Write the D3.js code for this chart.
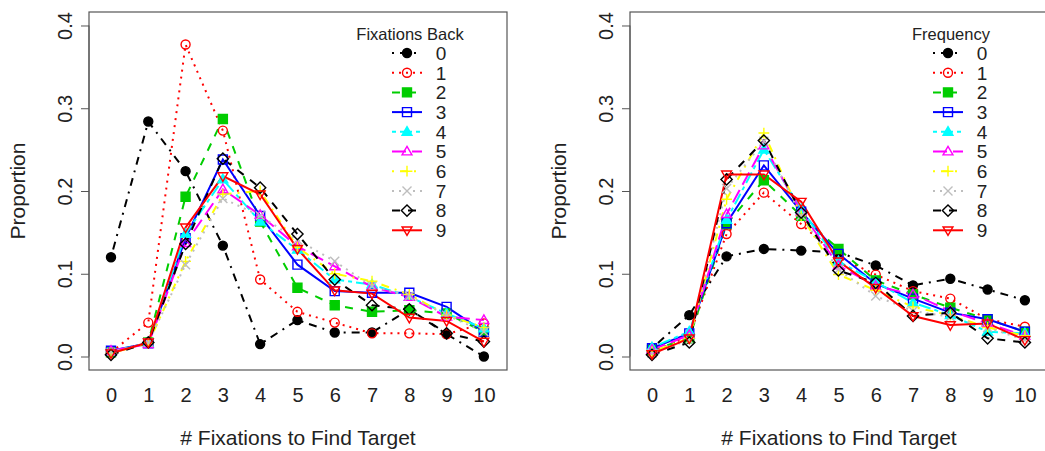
<!DOCTYPE html>
<html>
<head>
<meta charset="utf-8">
<script src="https://cdn.jsdelivr.net/npm/d3@7"></script>
<style>
  body { margin: 0; background: #fff; }
  text { font-family: "Liberation Sans", Arial, sans-serif; fill: #222; }
</style>
</head>
<body>
<svg id="chart" width="1045" height="451"></svg>
<script>
const fixations = [0, 1, 2, 3, 4, 5, 6, 7, 8, 9, 10];
const groups = ['0', '1', '2', '3', '4', '5', '6', '7', '8', '9'];
const yTicks = [0, 0.1, 0.2, 0.3, 0.4];

// left panel: proportion by number of fixations back
const backValues = [
  [0.120, 0.284, 0.224, 0.134, 0.015, 0.044, 0.029, 0.029, 0.057, 0.027, 0.000],
  [0.005, 0.041, 0.377, 0.273, 0.093, 0.054, 0.041, 0.028, 0.028, 0.027, 0.040],
  [0.005, 0.017, 0.193, 0.287, 0.163, 0.083, 0.062, 0.054, 0.056, 0.052, 0.030],
  [0.007, 0.016, 0.143, 0.238, 0.170, 0.111, 0.079, 0.077, 0.077, 0.060, 0.030],
  [0.006, 0.016, 0.148, 0.214, 0.163, 0.129, 0.093, 0.087, 0.072, 0.052, 0.034],
  [0.007, 0.015, 0.137, 0.202, 0.171, 0.133, 0.109, 0.084, 0.072, 0.048, 0.044],
  [0.004, 0.016, 0.115, 0.196, 0.200, 0.132, 0.100, 0.091, 0.075, 0.050, 0.035],
  [0.005, 0.017, 0.111, 0.191, 0.170, 0.141, 0.115, 0.085, 0.073, 0.050, 0.030],
  [0.002, 0.017, 0.136, 0.239, 0.204, 0.148, 0.093, 0.062, 0.057, 0.028, 0.018],
  [0.004, 0.017, 0.156, 0.218, 0.196, 0.130, 0.080, 0.076, 0.047, 0.043, 0.018]
];

// right panel: proportion by frequency
const freqValues = [
  [0.010, 0.050, 0.121, 0.130, 0.128, 0.126, 0.110, 0.086, 0.094, 0.081, 0.068],
  [0.005, 0.025, 0.148, 0.198, 0.160, 0.120, 0.099, 0.079, 0.070, 0.045, 0.036],
  [0.008, 0.022, 0.160, 0.213, 0.170, 0.130, 0.092, 0.075, 0.059, 0.045, 0.030],
  [0.010, 0.028, 0.161, 0.231, 0.175, 0.124, 0.088, 0.070, 0.053, 0.045, 0.030],
  [0.011, 0.030, 0.165, 0.250, 0.178, 0.115, 0.090, 0.065, 0.050, 0.030, 0.028],
  [0.008, 0.026, 0.172, 0.255, 0.175, 0.110, 0.085, 0.075, 0.055, 0.040, 0.025],
  [0.006, 0.022, 0.190, 0.270, 0.170, 0.099, 0.080, 0.060, 0.050, 0.035, 0.025],
  [0.004, 0.020, 0.203, 0.260, 0.170, 0.105, 0.073, 0.055, 0.048, 0.035, 0.020],
  [0.002, 0.017, 0.214, 0.261, 0.174, 0.104, 0.089, 0.049, 0.053, 0.022, 0.017],
  [0.003, 0.022, 0.220, 0.220, 0.187, 0.115, 0.083, 0.049, 0.038, 0.040, 0.020]
];

const colors = ['#000000', '#FF0000', '#00CD00', '#0000FF', '#00FFFF',
                '#FF00FF', '#FFFF00', '#BEBEBE', '#000000', '#FF0000'];
const shapes = ['dot', 'circle', 'fsquare', 'square', 'ftriangle',
                'triangle', 'plus', 'cross', 'diamond', 'down'];
const dashes = ['2,6,8,6', '2,5', '8,8', null, '4,4,12,4',
                '14,6', '2,6,8,6', '2,5', '8,8', null];

const svg = d3.select('#chart');
const font = '"Liberation Sans", Arial, sans-serif';

function symbolPath(shape, s) {
  const r = s / 2;
  switch (shape) {
    case 'dot':
    case 'circle':
      return `M${r},0A${r},${r} 0 1,1 ${-r},0A${r},${r} 0 1,1 ${r},0Z`;
    case 'fsquare':
    case 'square':
      return `M${-r},${-r}H${r}V${r}H${-r}Z`;
    case 'ftriangle':
    case 'triangle':
      return `M0,${-r * 1.15}L${r * 1.1},${r * 0.75}H${-r * 1.1}Z`;
    case 'down':
      return `M0,${r * 1.15}L${r * 1.1},${-r * 0.75}H${-r * 1.1}Z`;
    case 'plus':
      return `M${-r * 1.2},0H${r * 1.2}M0,${-r * 1.2}V${r * 1.2}`;
    case 'cross':
      return `M${-r},${-r}L${r},${r}M${-r},${r}L${r},${-r}`;
    case 'diamond':
      return `M0,${-r * 1.25}L${r * 1.25},0L0,${r * 1.25}L${-r * 1.25},0Z`;
  }
}

function drawSymbol(g, shape, color, s) {
  const filled = ['dot', 'fsquare', 'ftriangle'].includes(shape);
  g.append('path')
    .attr('d', symbolPath(shape, s))
    .attr('fill', filled ? color : 'none')
    .attr('stroke', color)
    .attr('stroke-width', 1.4);
}

function drawPanel(left, values, legendTitle, legendX) {
  const top = 12, bottom = 370, width = 418;
  const x = d3.scaleLinear().domain([-0.59, 10.62]).range([left, left + width]);
  const y = d3.scaleLinear().domain([-0.0163, 0.4163]).range([bottom, top]);

  const g = svg.append('g');

  // box
  g.append('rect')
    .attr('x', left).attr('y', top)
    .attr('width', width).attr('height', bottom - top)
    .attr('fill', 'none').attr('stroke', '#555').attr('stroke-width', 1.2);

  // y axis
  const yAxis = g.append('g')
    .attr('transform', `translate(${left},0)`)
    .call(d3.axisLeft(y).tickValues(yTicks).tickFormat(d3.format('.1f')).tickSize(8).tickPadding(0));
  yAxis.select('.domain').attr('d', `M0,${y(0)}V${y(0.4)}`).attr('stroke', '#555');
  yAxis.selectAll('.tick line').attr('stroke', '#555');
  yAxis.selectAll('.tick text')
    .attr('transform', 'translate(-24,0) rotate(-90)')
    .attr('x', 0).attr('dy', '0.35em')
    .attr('text-anchor', 'middle')
    .style('font-size', '20px')
    .style('font-family', font)
    .attr('fill', '#222');

  // x labels (no tick marks)
  const xAxis = g.append('g')
    .attr('transform', `translate(0,${bottom})`)
    .call(d3.axisBottom(x).tickValues(fixations).tickSize(0).tickPadding(18));
  xAxis.select('.domain').remove();
  xAxis.selectAll('.tick text')
    .style('font-size', '20px')
    .style('font-family', font)
    .attr('fill', '#222');

  g.append('text')
    .attr('x', left + width / 2).attr('y', 445)
    .attr('text-anchor', 'middle')
    .style('font-size', '21px')
    .text('# Fixations to Find Target');

  g.append('text')
    .attr('transform', `translate(${left - 64},${(top + bottom) / 2}) rotate(-90)`)
    .attr('text-anchor', 'middle')
    .style('font-size', '21px')
    .text('Proportion');

  const line = d3.line()
    .x((d, i) => x(fixations[i]))
    .y(d => y(d));

  values.forEach((series, k) => {
    g.append('path')
      .datum(series)
      .attr('d', line)
      .attr('fill', 'none')
      .attr('stroke', colors[k])
      .attr('stroke-width', 2)
      .attr('stroke-dasharray', dashes[k]);
  });

  values.forEach((series, k) => {
    series.forEach((v, i) => {
      const s = g.append('g').attr('transform', `translate(${x(fixations[i])},${y(v)})`);
      drawSymbol(s, shapes[k], colors[k], 9);
    });
  });

  // legend
  const lg = g.append('g');
  lg.append('text')
    .attr('x', legendX).attr('y', 40)
    .attr('text-anchor', 'middle')
    .style('font-size', '16.5px')
    .text(legendTitle);
  groups.forEach((name, k) => {
    const cy = 53 + k * 19.7;
    const sx = legendX - 3;
    lg.append('line')
      .attr('x1', sx - 15).attr('x2', sx + 15)
      .attr('y1', cy).attr('y2', cy)
      .attr('stroke', colors[k])
      .attr('stroke-width', 2)
      .attr('stroke-dasharray', dashes[k]);
    const s = lg.append('g').attr('transform', `translate(${sx},${cy})`);
    drawSymbol(s, shapes[k], colors[k], 9);
    lg.append('text')
      .attr('x', sx + 34).attr('y', cy)
      .attr('dy', '0.36em')
      .attr('text-anchor', 'middle')
      .style('font-size', '19px')
      .text(name);
  });
}

drawPanel(89, backValues, 'Fixations Back', 410);
drawPanel(630, freqValues, 'Frequency', 951);
</script>
</body>
</html>
